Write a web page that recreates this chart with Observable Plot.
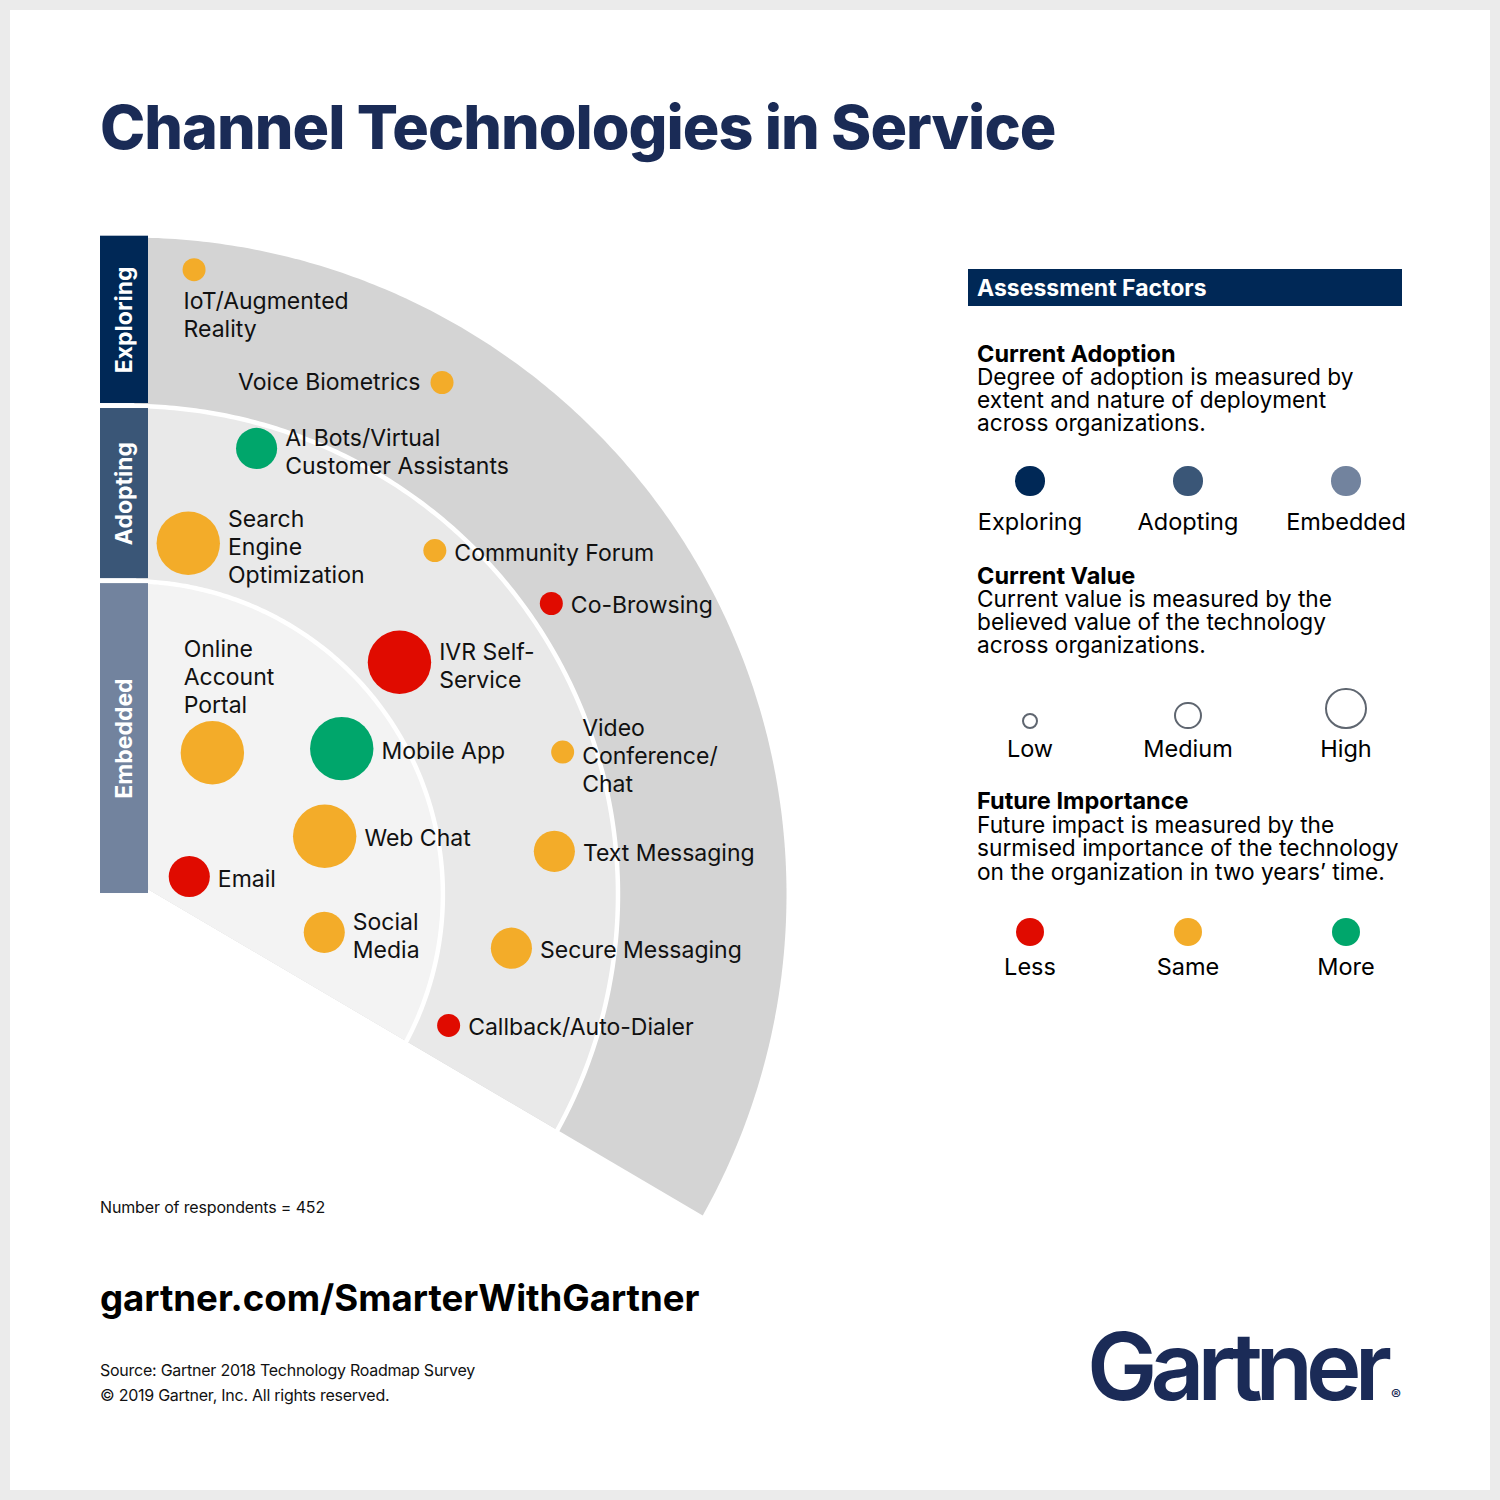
<!DOCTYPE html>
<html>
<head>
<meta charset="utf-8">
<script src="https://cdn.jsdelivr.net/npm/d3@7"></script>
<script src="https://cdn.jsdelivr.net/npm/@observablehq/plot@0.6"></script>
<style>
  html, body { margin: 0; padding: 0; background: #ebebeb; }
  #page { position: relative; width: 1500px; height: 1500px; background: #ebebeb; overflow: hidden;
          font-family: Inter, "Noto Sans", sans-serif; color: #111; }
  #card { position: absolute; left: 10px; top: 10px; width: 1480px; height: 1480px; background: #fff; }
  .t { position: absolute; white-space: pre; }
  .t b { font-weight: 700; }
  .dot { position: absolute; border-radius: 50%; box-sizing: border-box; }
  #chart { position: absolute; left: 0; top: 200px; }
</style>
</head>
<body>
<div id="page">
  <div id="card"></div>
  <div id="chart"></div>
</div>
<script>
// ---------------- DATA ----------------
const technologies = ["IoT/Augmented Reality", "Voice Biometrics", "AI Bots/Virtual Customer Assistants",
  "Search Engine Optimization", "Community Forum", "Co-Browsing", "IVR Self-Service", "Online Account Portal",
  "Mobile App", "Web Chat", "Email", "Social Media", "Video Conference/Chat", "Text Messaging",
  "Secure Messaging", "Callback/Auto-Dialer"];
const labelLines = ["IoT/Augmented\nReality", "Voice Biometrics", "AI Bots/Virtual\nCustomer Assistants",
  "Search\nEngine\nOptimization", "Community Forum", "Co-Browsing", "IVR Self-\nService", "Online\nAccount\nPortal",
  "Mobile App", "Web Chat", "Email", "Social\nMedia", "Video\nConference/\nChat", "Text Messaging",
  "Secure Messaging", "Callback/Auto-Dialer"];
const adoptionStage = ["Exploring", "Exploring", "Adopting", "Adopting", "Adopting", "Exploring", "Adopting", "Embedded",
  "Embedded", "Embedded", "Embedded", "Embedded", "Adopting", "Adopting", "Adopting", "Adopting"];
const currentValue = ["Low", "Low", "Medium", "High", "Low", "Low", "High", "High",
  "High", "High", "Medium", "Medium", "Low", "Medium", "Medium", "Low"];
const futureImportance = ["Same", "Same", "More", "Same", "Same", "Less", "Less", "Same",
  "More", "Same", "Less", "Same", "Same", "Same", "Same", "Less"];
// distance from the fan's centre (% of outer radius) and angle (degrees clockwise from vertical)
const radialPosition = [95.6, 91.3, 70.6, 54.2, 70.0, 78.0, 54.2, 25.0, 39.2, 31.0, 9.5, 30.2, 69.4, 65.0, 58.7, 52.5];
const angularPosition = [5.9, 31.4, 15.9, 9.5, 41.6, 55.4, 49.3, 30.3, 55.5, 73.4, 73.3, 101.0, 71.8, 84.2, 98.0, 112.3];

const stages = ["Embedded", "Adopting", "Exploring"];
const stageOuterRadius = [47.7, 74.35, 100];
const valueLevels = ["Low", "Medium", "High"];
const futureLevels = ["Less", "Same", "More"];
const legendStages = ["Exploring", "Adopting", "Embedded"];

// ---------------- LAYOUT / STYLE ----------------
const K = 6.57;             // px per radius unit
const CX = 129, CY = 894;   // page px of the fan centre
const SVG_TOP = 200, SVG_W = 960, SVG_H = 1050;
const FONT = "Inter, 'Noto Sans', sans-serif";
const stageFill = {Embedded: "#f3f3f3", Adopting: "#e9e9e9", Exploring: "#d4d4d4"};
const stageBar = {Exploring: "#002856", Adopting: "#3a5677", Embedded: "#72839e"};
const futureColors = ["#e00b00", "#f3ac29", "#00a66b"];
const labelSide = {"IoT/Augmented Reality": "below", "Voice Biometrics": "left", "Online Account Portal": "above"};
const edgeStart = [19 / K, 5 / K], edgeAngle = -30.47 * Math.PI / 180;  // straight lower edge of the fan
const barX1 = (100 - CX) / K, barX2 = (148 - CX) / K, barGap = 2.5 / K;

const rScale = d3.scalePow().exponent(1.4).domain([1, 3]).range([11.5, 31.7]);

function edgeTheta(R) {
  const [px, py] = edgeStart, dx = Math.cos(edgeAngle), dy = Math.sin(edgeAngle);
  const b = px * dx + py * dy;
  const t = -b + Math.sqrt(b * b - (px * px + py * py) + R * R);
  return Math.atan2(px + t * dx, py + t * dy);
}
function arcPoints(R, t0) {
  const t1 = edgeTheta(R), n = 240, pts = [];
  for (let i = 0; i <= n; i++) { const t = t0 + (t1 - t0) * i / n; pts.push({x: R * Math.sin(t), y: R * Math.cos(t)}); }
  return pts;
}
function sectorPoints(R) {
  const pts = arcPoints(R, 0);
  pts.push({x: edgeStart[0], y: edgeStart[1]});
  return pts;
}

const rows = technologies.map((name, i) => {
  const a = angularPosition[i] * Math.PI / 180, r = radialPosition[i];
  const value = valueLevels.indexOf(currentValue[i]) + 1;
  const x = r * Math.sin(a), y = r * Math.cos(a), rp = rScale(value);
  const side = labelSide[name] || "right";
  const multi = labelLines[i].includes("\n");
  let lx = x + (rp + 8) / K, ly = y;
  if (side === "left") lx = x - (rp + 10) / K;
  if (side === "below") { lx = x - (rp - 1) / K; ly = y - (rp + 8) / K; }
  if (side === "above") { lx = x - (rp - 3) / K; ly = y + (rp + 8) / K; }
  return {name, label: labelLines[i], stage: adoptionStage[i], value, future: futureImportance[i], x, y, side, multi, lx, ly};
});

const marks = [];
[...stages].reverse().forEach(s => {
  marks.push(Plot.line(sectorPoints(stageOuterRadius[stages.indexOf(s)]),
    {x: "x", y: "y", fill: stageFill[s], stroke: "none", curve: "linear-closed"}));
});
stageOuterRadius.slice(0, 2).forEach(R => {
  marks.push(Plot.line(arcPoints(R, -0.06), {x: "x", y: "y", stroke: "white", strokeWidth: 4.5}));
});
stages.forEach((s, i) => {
  const lo = i === 0 ? 0.15 : stageOuterRadius[i - 1] + barGap;
  const hi = i === 2 ? 100.2 : stageOuterRadius[i] - barGap;
  marks.push(Plot.rect([s], {x1: () => barX1, x2: () => barX2, y1: () => lo, y2: () => hi, fill: stageBar[s]}));
  marks.push(Plot.text([s], {x: () => (barX1 + barX2) / 2, y: () => (lo + hi) / 2, text: d => d, rotate: -90,
    fill: "white", fontSize: 23, fontWeight: 700, fontFamily: FONT}));
});
marks.push(Plot.dot(rows, {x: "x", y: "y", r: "value", fill: "future"}));
const textOpts = {x: "lx", y: "ly", text: "label", fontSize: 23, lineHeight: 1.22, fill: "#111", fontFamily: FONT};
marks.push(Plot.text(rows.filter(d => d.side === "right" && !d.multi), {...textOpts, textAnchor: "start", lineAnchor: "middle", dy: 1}));
marks.push(Plot.text(rows.filter(d => d.side === "right" && d.multi), {...textOpts, textAnchor: "start", lineAnchor: "middle", dy: 2.5}));
marks.push(Plot.text(rows.filter(d => d.side === "left"), {...textOpts, textAnchor: "end", lineAnchor: "middle", dy: -1}));
marks.push(Plot.text(rows.filter(d => d.side === "below"), {...textOpts, textAnchor: "start", lineAnchor: "top"}));
marks.push(Plot.text(rows.filter(d => d.side === "above"), {...textOpts, textAnchor: "start", lineAnchor: "bottom"}));

const chart = Plot.plot({
  width: SVG_W, height: SVG_H,
  marginTop: 0, marginRight: 0, marginBottom: 0, marginLeft: 0,
  style: {background: "transparent", overflow: "visible", maxWidth: "none"},
  x: {axis: null, domain: [-CX / K, (SVG_W - CX) / K], range: [0, SVG_W]},
  y: {axis: null, domain: [(CY - SVG_TOP - SVG_H) / K, (CY - SVG_TOP) / K], range: [SVG_H, 0]},
  r: {type: "pow", exponent: 1.4, domain: [1, 3], range: [11.5, 31.7]},
  color: {domain: futureLevels, range: futureColors},
  marks
});
document.getElementById("chart").appendChild(chart);

// ---------------- TEXT & LEGEND ----------------
const page = document.getElementById("page");
// baseline = y of the first line's baseline; lh = line height in px
function addText(str, x, baseline, size, opts = {}) {
  const el = document.createElement("div");
  const lh = opts.lh || size;
  el.className = "t";
  if (opts.html) el.innerHTML = str; else el.textContent = str;
  el.style.fontSize = size + "px";
  el.style.lineHeight = lh + "px";
  el.style.top = (baseline - ((lh - 1.211 * size) / 2 + 0.969 * size)) + "px";
  if (opts.center) { el.style.left = (x - 150) + "px"; el.style.width = "300px"; el.style.textAlign = "center"; }
  else el.style.left = x + "px";
  if (opts.weight) el.style.fontWeight = opts.weight;
  if (opts.color) el.style.color = opts.color;
  if (opts.ls) el.style.letterSpacing = opts.ls;
  page.appendChild(el);
  return el;
}
function addDot(cx, cy, r, fill, stroke) {
  const el = document.createElement("div");
  el.className = "dot";
  el.style.left = (cx - r) + "px"; el.style.top = (cy - r) + "px";
  el.style.width = el.style.height = (2 * r) + "px";
  if (fill) el.style.background = fill;
  if (stroke) el.style.border = "2.5px solid " + stroke;
  page.appendChild(el);
}
function section(title, lines, baseline, lh) {
  addText(`<b style="font-size:23.5px">${title}</b>\n${lines.join("\n")}`, 977, baseline, 22.7, {lh, color: "#000", html: true});
}

addText("Channel Technologies in Service", 100, 149.5, 61, {weight: 800, color: "#1a2b56", ls: "-1px"});

// legend header
const hdr = document.createElement("div");
Object.assign(hdr.style, {position: "absolute", left: "968px", top: "269px", width: "434px", height: "37px", background: "#002856"});
page.appendChild(hdr);
addText("Assessment Factors", 977, 296.5, 23, {weight: 700, color: "#fff"});

const cols = [1030, 1188, 1346];
const LS = 23.5;
section("Current Adoption", ["Degree of adoption is measured by", "extent and nature of deployment", "across organizations."], 362, 23);
legendStages.forEach((s, i) => { addDot(cols[i], 481, 14.7, stageBar[s]); addText(s, cols[i], 530.5, LS, {center: true, color: "#000"}); });

section("Current Value", ["Current value is measured by the", "believed value of the technology", "across organizations."], 583.5, 23.3);
const legendR = [8.3, 13.6, 20.6];
valueLevels.forEach((s, i) => { addDot(cols[i], 729.5 - legendR[i], legendR[i], null, "#5f6670"); addText(s, cols[i], 757, LS, {center: true, color: "#000"}); });

section("Future Importance", ["Future impact is measured by the", "surmised importance of the technology", "on the organization in two years\u2019 time."], 809.5, 23.5);
futureLevels.forEach((s, i) => { addDot(cols[i], 932, 14, futureColors[i]); addText(s, cols[i], 975, LS, {center: true, color: "#000"}); });

// footer
addText("Number of respondents = 452", 100, 1213, 16, {color: "#111", ls: "-0.15px"});
addText("gartner.com/SmarterWithGartner", 100, 1311.5, 36.6, {weight: 700, color: "#000"});
addText("Source: Gartner 2018 Technology Roadmap Survey", 100, 1376, 16, {color: "#111", ls: "-0.25px"});
addText("\u00A9 2019 Gartner, Inc. All rights reserved.", 100, 1400.5, 16, {color: "#111", ls: "-0.25px"});
addText('Gartner<span style="font-size:15px;letter-spacing:0;margin-left:6px">\u00AE</span>', 1087, 1400, 94,
  {weight: 600, color: "#1b2b57", ls: "-7px", html: true});
</script>
</body>
</html>
